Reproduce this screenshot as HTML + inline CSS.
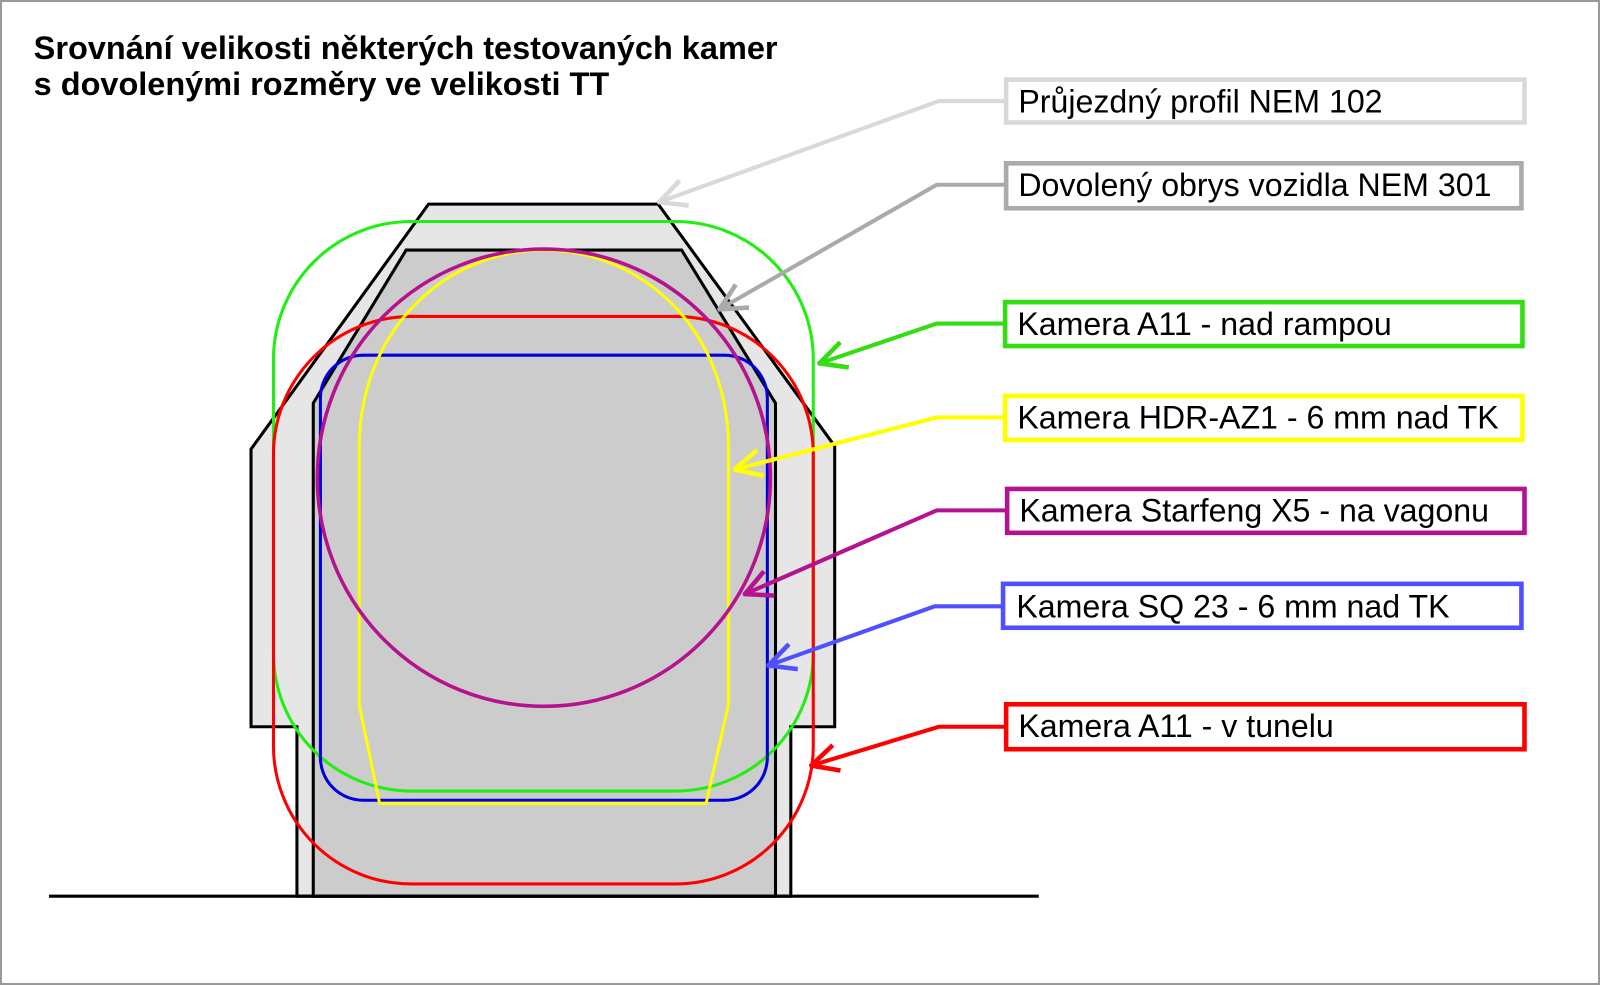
<!DOCTYPE html>
<html><head><meta charset="utf-8"><style>
html,body{margin:0;padding:0;background:#fff;}
svg{display:block;}
text{font-family:"Liberation Sans",Arial,sans-serif;}
</style></head><body>
<svg width="1600" height="985" viewBox="0 0 1568 965" preserveAspectRatio="none" xmlns="http://www.w3.org/2000/svg">
<defs>
<marker id="a1" viewBox="-30 -15 32 30" markerWidth="32" markerHeight="30" refX="0" refY="0" orient="auto" markerUnits="userSpaceOnUse"><path d="M-26,-13 L0,0 L-26,13" fill="none" stroke="#d9d9d9" stroke-width="4.5"/></marker>
<marker id="a2" viewBox="-30 -15 32 30" markerWidth="32" markerHeight="30" refX="0" refY="0" orient="auto" markerUnits="userSpaceOnUse"><path d="M-26,-13 L0,0 L-26,13" fill="none" stroke="#aaaaaa" stroke-width="4.5"/></marker>
<marker id="a3" viewBox="-30 -15 32 30" markerWidth="32" markerHeight="30" refX="0" refY="0" orient="auto" markerUnits="userSpaceOnUse"><path d="M-26,-13 L0,0 L-26,13" fill="none" stroke="#33dd11" stroke-width="4.5"/></marker>
<marker id="a4" viewBox="-30 -15 32 30" markerWidth="32" markerHeight="30" refX="0" refY="0" orient="auto" markerUnits="userSpaceOnUse"><path d="M-26,-13 L0,0 L-26,13" fill="none" stroke="#ffff00" stroke-width="4.5"/></marker>
<marker id="a5" viewBox="-30 -15 32 30" markerWidth="32" markerHeight="30" refX="0" refY="0" orient="auto" markerUnits="userSpaceOnUse"><path d="M-26,-13 L0,0 L-26,13" fill="none" stroke="#b5128f" stroke-width="4.5"/></marker>
<marker id="a6" viewBox="-30 -15 32 30" markerWidth="32" markerHeight="30" refX="0" refY="0" orient="auto" markerUnits="userSpaceOnUse"><path d="M-26,-13 L0,0 L-26,13" fill="none" stroke="#5050ff" stroke-width="4.5"/></marker>
<marker id="a7" viewBox="-30 -15 32 30" markerWidth="32" markerHeight="30" refX="0" refY="0" orient="auto" markerUnits="userSpaceOnUse"><path d="M-26,-13 L0,0 L-26,13" fill="none" stroke="#ff0000" stroke-width="4.5"/></marker>
</defs>
<rect x="1" y="1" width="1566" height="963" fill="#fff" stroke="#999" stroke-width="2"/>
<text x="33" y="58" font-size="31.5" font-weight="bold" textLength="729" lengthAdjust="spacingAndGlyphs">Srovnání velikosti některých testovaných kamer</text>
<text x="33" y="93" font-size="31.5" font-weight="bold" textLength="564" lengthAdjust="spacingAndGlyphs">s dovolenými rozměry ve velikosti TT</text>

<path d="M420,200 L645,200 L818,437 L818,712 L775,712 L775,878 L291,878 L291,712 L246,712 L246,440 Z" fill="#e6e6e6" stroke="#000" stroke-width="3"/>
<path d="M398,245 L668,245 L760,395 L760,878 L307,878 L307,395 Z" fill="#cccccc" stroke="#000" stroke-width="3"/>
<line x1="48" y1="878" x2="1018" y2="878" stroke="#000" stroke-width="3"/>

<rect x="268" y="217" width="529" height="558" rx="135" ry="135" fill="none" stroke="#22ee11" stroke-width="3"/>
<rect x="268" y="310" width="529" height="556" rx="135" ry="135" fill="none" stroke="#ff0000" stroke-width="3"/>
<rect x="314" y="348" width="438" height="436" rx="42" ry="42" fill="none" stroke="#0000dd" stroke-width="3"/>
<path d="M352,690 L352,440 C352,320 440,245 533,245 C626,245 714,320 714,440 L714,690 L692,787 L372,787 Z" fill="none" stroke="#ffff00" stroke-width="3"/>
<ellipse cx="533" cy="468" rx="222" ry="224" fill="none" stroke="#b5128f" stroke-width="3.5"/>

<g fill="none" stroke-width="4">
<polyline points="985,99 920,99 646,198" stroke="#d9d9d9" marker-end="url(#a1)"/>
<polyline points="985,181 918,181 705,303" stroke="#aaaaaa" marker-end="url(#a2)"/>
<polyline points="985,317 918,317 803,356" stroke="#33dd11" marker-end="url(#a3)"/>
<polyline points="985,409 918,409 720,460" stroke="#ffff00" marker-end="url(#a4)"/>
<polyline points="987,500 918,500 730,582" stroke="#b5128f" marker-end="url(#a5)"/>
<polyline points="983,594 916,594 753,652" stroke="#5050ff" marker-end="url(#a6)"/>
<polyline points="986,712 920,712 795,750" stroke="#ff0000" marker-end="url(#a7)"/>
</g>

<g fill="#fff" stroke-width="4.5">
<rect x="986" y="78" width="508" height="42" stroke="#d9d9d9"/>
<rect x="986" y="160" width="505" height="44" stroke="#aaaaaa"/>
<rect x="985" y="296" width="507" height="43" stroke="#33dd11"/>
<rect x="985" y="388" width="507" height="43" stroke="#ffff00"/>
<rect x="987" y="479" width="507" height="43" stroke="#b5128f"/>
<rect x="983" y="572" width="508" height="43" stroke="#5050ff"/>
<rect x="986" y="690" width="508" height="44" stroke="#ff0000"/>
</g>
<g font-size="31.5" fill="#000">
<text x="998" y="110">Průjezdný profil NEM 102</text>
<text x="998" y="192">Dovolený obrys vozidla NEM 301</text>
<text x="997" y="328">Kamera A11 - nad rampou</text>
<text x="997" y="420">Kamera HDR-AZ1 - 6 mm nad TK</text>
<text x="999" y="511">Kamera Starfeng X5 - na vagonu</text>
<text x="996" y="605">Kamera SQ 23 - 6 mm nad TK</text>
<text x="998" y="722">Kamera A11 - v tunelu</text>
</g>
</svg>
</body></html>
